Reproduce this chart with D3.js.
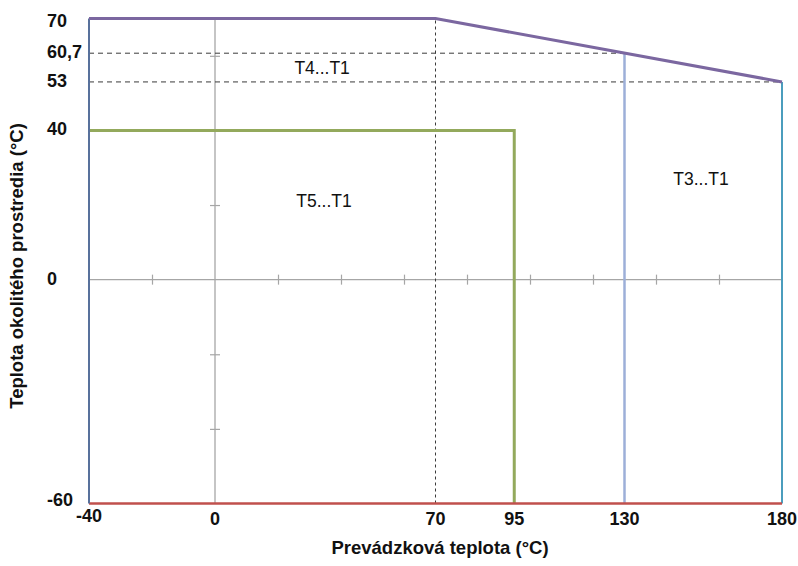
<!DOCTYPE html>
<html><head><meta charset="utf-8">
<script src="https://cdn.jsdelivr.net/npm/d3@7"></script>
<style>
html,body{margin:0;padding:0;background:#fff;}
svg{display:block;font-family:Arial,"Liberation Sans",sans-serif;}
</style></head>
<body><svg id="c" width="798" height="566"></svg>
<script>
// ---- data ----
const xTickLabels = [-40, 0, 70, 95, 130, 180];
const yTickLabels = [70, 60.7, 53, 40, 0, -60];
const xMinorTicks = [-20, 20, 40, 60, 80, 100, 120, 140, 160];
const yMinorTicks = [60, 20, -20, -40];
const topBoundary = [[-40, 70], [70, 70], [180, 53]];          // purple
const t5Boundary = [[-40, 40], [95, 40], [95, -60]];            // green
const leftBoundary = [[-40, -60], [-40, 70]];                   // blue-grey
const bottomBoundary = [[-40, -60], [180, -60]];                // red
const t4Boundary = [[130, -60], [130, 60.7]];                   // light blue
const t3Boundary = [[180, -60], [180, 53]];                     // teal
const dashH = [[[-40, 60.7], [130, 60.7]], [[-40, 53], [180, 53]]];
const dashV = [[[70, -60], [70, 70]]];
const zoneLabels = [
  {text: "T4...T1", x: 34, y: 55},
  {text: "T5...T1", x: 34.6, y: 19.6},
  {text: "T3...T1", x: 154.3, y: 25.5}
];
const xTitle = "Prevádzková teplota (°C)";
const yTitle = "Teplota okolitého prostredia (°C)";

// ---- scales ----
const svg = d3.select("#c");
const x = d3.scaleLinear().domain([-40, 180]).range([89, 782]);
const y = d3.scaleLinear().domain([-60, 70]).range([503.5, 18.5]);
const line = d3.line().x(d => x(d[0])).y(d => y(d[1]));

// gray axes through zero
svg.append("line").attr("x1", x(-40)).attr("x2", x(180)).attr("y1", y(0)).attr("y2", y(0))
  .attr("stroke", "#a6a6a6").attr("stroke-width", 1.3);
svg.append("line").attr("x1", x(0)).attr("x2", x(0)).attr("y1", y(-60)).attr("y2", y(70))
  .attr("stroke", "#a6a6a6").attr("stroke-width", 1.3);

const gx = svg.append("g").attr("transform", `translate(0,${y(0) - 5})`)
  .call(d3.axisBottom(x).tickValues(xMinorTicks).tickSize(10).tickFormat(""));
gx.select(".domain").remove();
gx.selectAll("line").attr("stroke", "#a6a6a6").attr("stroke-width", 1.2);
const gy = svg.append("g").attr("transform", `translate(${x(0) - 5},0)`)
  .call(d3.axisRight(y).tickValues(yMinorTicks).tickSize(10).tickFormat(""));
gy.select(".domain").remove();
gy.selectAll("line").attr("stroke", "#a6a6a6").attr("stroke-width", 1.2);

// dashed guides
dashH.forEach(d => svg.append("path").attr("d", line(d)).attr("fill", "none")
  .attr("stroke", "#3a3a3a").attr("stroke-width", 1).attr("stroke-dasharray", "5,4"));
dashV.forEach(d => svg.append("path").attr("d", line(d)).attr("fill", "none")
  .attr("stroke", "#3a3a3a").attr("stroke-width", 1).attr("stroke-dasharray", "3,3"));

// boundaries
const draw = (d, c, w) => svg.append("path").attr("d", line(d)).attr("fill", "none")
  .attr("stroke", c).attr("stroke-width", w).attr("stroke-linejoin", "miter");
draw(t5Boundary, "#93a95c", 3);
draw(t4Boundary, "#9dafd8", 2.5);
draw(t3Boundary, "#4b9dbd", 2);
draw(bottomBoundary, "#c0504d", 2.5);
draw(leftBoundary, "#58719c", 2);
draw(topBoundary, "#7b67a0", 3);

// zone labels
svg.selectAll(".zl").data(zoneLabels).enter().append("text")
  .attr("x", d => x(d.x)).attr("y", d => y(d.y)).attr("text-anchor", "middle")
  .attr("font-size", 17.5).attr("fill", "#111").text(d => d.text);

// y tick labels
svg.selectAll(".yl").data(yTickLabels).enter().append("text")
  .attr("x", 47).attr("y", d => y(d) + (d === 70 ? 8 : d === -60 ? 2 : 5))
  .attr("font-size", 18).attr("font-weight", "bold").attr("fill", "#111")
  .text(d => String(d).replace(".", ","));

// x tick labels
svg.selectAll(".xl").data(xTickLabels).enter().append("text")
  .attr("x", d => x(d)).attr("y", d => d === -40 ? 522 : 525).attr("text-anchor", "middle")
  .attr("font-size", 18).attr("font-weight", "bold").attr("fill", "#111").text(d => d);

// titles
svg.append("text").attr("x", 440).attr("y", 554).attr("text-anchor", "middle")
  .attr("font-size", 18.5).attr("font-weight", "bold").attr("fill", "#111").text(xTitle);
svg.append("text").attr("transform", "translate(23,266) rotate(-90)").attr("text-anchor", "middle")
  .attr("font-size", 18.5).attr("font-weight", "bold").attr("fill", "#111").text(yTitle);
</script></body></html>
